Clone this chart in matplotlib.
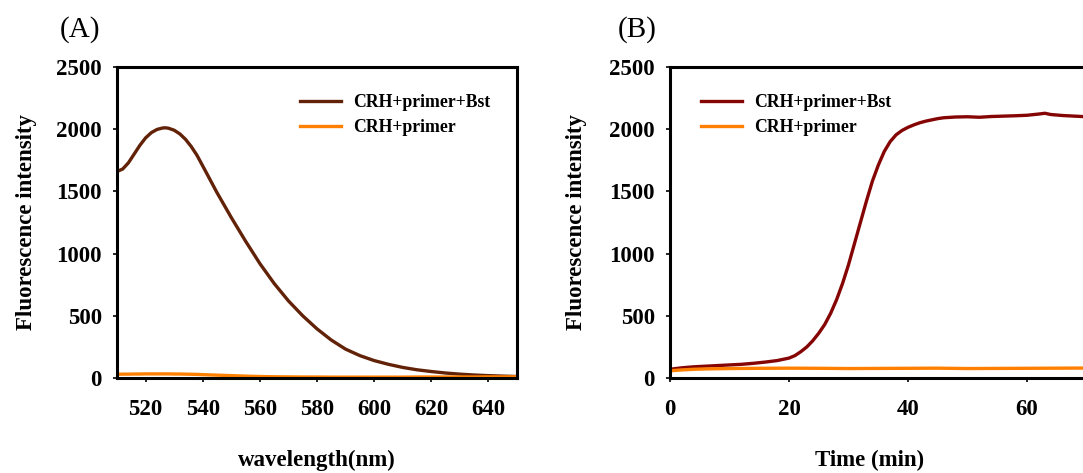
import matplotlib
matplotlib.use("Agg")
import matplotlib.pyplot as plt
import numpy as np

plt.rcParams['font.family'] = ['Liberation Serif', 'DejaVu Serif']

# Panel A: emission spectra
wl = [510, 512, 514, 516, 518, 520, 522, 524, 526, 527, 528, 530, 532, 534, 536, 538, 540, 545, 550, 555, 560,
      565, 570, 575, 580, 585, 590, 595, 600, 605, 610, 615, 620, 625, 630, 635, 640, 645, 650]
spec_bst = [1660, 1680, 1730, 1800, 1870, 1930, 1972, 1998, 2010, 2011, 2008, 1992, 1962, 1918, 1860, 1790, 1705, 1490, 1290, 1100, 920,
            760, 620, 500, 395, 305, 232, 180, 140, 110, 85, 66, 52, 40, 31, 24, 19, 15, 12]
spec_ctrl = [30, 31, 31, 32, 32, 33, 33, 33, 33, 33, 33, 32, 32, 31, 30, 29, 27, 23, 19, 15, 12,
             10, 9, 8, 8, 7, 7, 7, 7, 7, 7, 8, 8, 8, 8, 8, 9, 9, 10]

# Panel B: real-time amplification
t = [0, 2, 4, 6, 8, 10, 12, 14, 16, 18, 20, 21, 22, 23, 24, 25, 26, 27, 28, 29, 30,
     31, 32, 33, 34, 35, 36, 37, 38, 39, 40, 41, 42, 43, 44, 45, 46, 48, 50, 52, 54,
     56, 58, 60, 62, 63, 64, 66, 68, 70]
amp_bst = [70, 82, 90, 95, 100, 105, 110, 118, 128, 140, 160, 180, 212, 250, 300, 360, 430, 520, 630, 760, 910,
           1080, 1250, 1420, 1580, 1710, 1820, 1900, 1955, 1990, 2015, 2035, 2052, 2065, 2075, 2085, 2092, 2098, 2100, 2096, 2102,
           2105, 2108, 2112, 2122, 2128, 2118, 2110, 2105, 2100]
t_ctrl = [0, 2, 4, 6, 10, 15, 20, 25, 30, 35, 40, 45, 50, 55, 60, 65, 70]
amp_ctrl = [58, 65, 70, 73, 76, 78, 79, 78, 76, 77, 78, 79, 76, 77, 78, 79, 80]

fig = plt.figure(figsize=(10.83, 4.73), dpi=100)
W, H = 1083, 473

def px_axes(l, r, top, bot):
    return fig.add_axes([l / W, 1 - bot / H, (r - l) / W, (bot - top) / H])

axA = px_axes(117, 517, 67, 378)
axB = px_axes(670, 1146, 67, 378)

TICK = 16.5
LAB = 16.5
LEG = 12.8
ORANGE = '#FF8000'

# Panel A
axA.plot(wl, spec_bst, color='#622208', lw=2.4, label='CRH+primer+Bst')
axA.plot(wl, spec_ctrl, color=ORANGE, lw=2.4, label='CRH+primer')
axA.set_xlim(510, 650)
axA.set_ylim(0, 2500)
axA.set_xticks([520, 540, 560, 580, 600, 620, 640])
axA.legend(loc='upper left', bbox_to_anchor=(0.44, 0.935), frameon=False,
           prop=dict(size=LEG, weight='bold'), handlelength=2.3, handletextpad=0.7,
           labelspacing=0.45, borderaxespad=0)
axA.set_xlabel('wavelength(nm)', fontsize=LAB, fontweight='bold')
axA.xaxis.set_label_coords(0.5, -0.264)
axA.yaxis.set_label_coords(-0.226, 0.5)
fig.text(60 / W, 1 - 30 / H, '(A)', fontsize=21, ha='left', va='center')

# Panel B
axB.plot(t, amp_bst, color='#850505', lw=2.4, label='CRH+primer+Bst')
axB.plot(t_ctrl, amp_ctrl, color=ORANGE, lw=2.4, label='CRH+primer')
axB.set_xlim(0, 80)
axB.set_ylim(0, 2500)
axB.set_xticks([0, 20, 40, 60])
axB.legend(loc='upper left', bbox_to_anchor=(0.05, 0.935), frameon=False,
           prop=dict(size=LEG, weight='bold'), handlelength=2.3, handletextpad=0.7,
           labelspacing=0.45, borderaxespad=0)
axB.set_xlabel('Time (min)', fontsize=LAB, fontweight='bold')
axB.xaxis.set_label_coords(0.42, -0.264)
axB.yaxis.set_label_coords(-0.196, 0.5)
fig.text(618 / W, 1 - 30 / H, '(B)', fontsize=21, ha='left', va='center')

for ax in (axA, axB):
    ax.set_yticks([0, 500, 1000, 1500, 2000, 2500])
    ax.tick_params(axis='x', length=3, width=1.2, direction='out', pad=12)
    ax.tick_params(axis='y', length=3, width=1.2, direction='out', pad=8)
    ax.set_ylabel('Fluorescence intensity', fontsize=LAB, fontweight='bold', va='center')
    for s in ax.spines.values():
        s.set_linewidth(2.2)
    for lab in ax.get_xticklabels() + ax.get_yticklabels():
        lab.set_fontsize(TICK)
        lab.set_fontweight('bold')
    ax.xaxis.label.set_va('center')

fig.savefig('out.png', dpi=100)
